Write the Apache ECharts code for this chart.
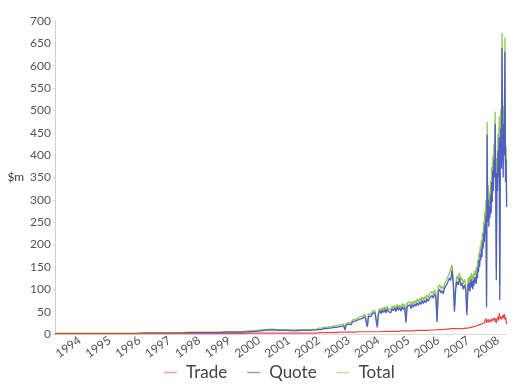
<!DOCTYPE html>
<html>
<head>
<meta charset="utf-8">
<script src="https://cdn.jsdelivr.net/npm/echarts@6/dist/echarts.min.js"></script>
<style>
  html, body { margin: 0; padding: 0; background: #fff; }
  #chart { width: 518px; height: 385px; }
</style>
</head>
<body>
<div id="chart"></div>
<script>
// Daily value traded on the exchange, $m — Trade, Quote and Total.
// Sampling: quarterly 1993–2001, half-monthly 2002–2006, weekly 2007–2008.
const segments = [
  { start: 1993.17, step: 0.25, count: 36 },
  { start: 2002.0, step: 1 / 24, count: 120 },
  { start: 2007.0, step: 1 / 52, count: 68 }
];

const yearTicks = [1994, 1995, 1996, 1997, 1998, 1999, 2000, 2001, 2002, 2003, 2004, 2005, 2006, 2007, 2008];

// 1993–2001 (quarterly)
const tradeEarly = [1,1,1,1,1,1,1,1,1,1,1,1, 1,1,1,1,1,1,1,1, 1,1,1,1,1,1,2,2, 2,2,2,2,2,2,2,2];
const quoteEarly = [1,1,1,1,1,1,1,1,1,1,1,1, 2,2,2,2,2,2,3,3, 3,3,3,4,4,4,5,6, 8,9,8,8,7,8,8,9];
const totalEarly = [2,2,2,2,2,2,2,2,2,2,2,2, 3,3,3,3,3,3,4,4, 4,4,4,5,5,5,7,8, 10,11,10,10,9,10,10,11];

// 2002–2006 (half-monthly)
const tradeMid = [
  3,3,3,3,3,3,3,3,3,3,3,3,3,3,3,3,4,4,4,4,4,4,4,4,
  4,4,4,4,4,4,4,4,5,5,5,5,5,5,5,5,5,5,5,5,5,5,5,5,
  5,5,5,6,6,6,6,6,6,6,6,6,6,6,6,6,6,6,7,7,7,7,7,7,
  7,7,7,7,7,7,8,8,8,8,8,8,8,8,8,8,8,9,9,9,9,9,9,9,
  10,10,10,10,10,10,11,11,11,11,12,12,12,12,12,12,12,12,12,12,12,12,13,13
];
const quoteMid = [
  10,11,10,11,12,11,12,12,13,14,13,14,15,16,15,17,16,18,17,19,18,9,20,21,
  22,26,21,27,25,29,26,31,28,33,30,35,33,39,35,16,40,44,39,46,42,48,44,15,
  47,52,45,53,48,55,47,56,50,54,48,57,52,58,50,60,53,59,51,61,55,60,25,62,
  58,65,57,66,60,68,62,70,64,72,66,75,68,76,70,79,73,80,76,86,80,90,84,27,
  95,100,92,97,90,102,98,112,108,125,120,143,112,50,100,118,110,125,108,114,100,110,98,42
];
const totalMid = [
  13,14,13,14,15,14,15,15,16,17,16,17,18,19,18,20,20,22,21,23,22,13,24,25,
  26,30,25,31,29,33,30,35,33,38,35,40,38,44,40,21,45,49,44,51,47,53,49,20,
  52,57,50,59,54,61,53,62,56,60,54,63,58,64,56,66,59,65,58,68,62,67,32,69,
  65,72,64,73,67,75,70,78,72,80,74,83,76,84,78,87,81,89,85,95,89,99,93,36,
  105,110,102,107,100,112,109,123,119,136,132,155,124,62,112,130,122,137,120,126,112,122,111,55
];

// 2007–2008 (weekly)
const tradeLate = [
  13,12,14,13,15,14,15,13,16,15,16,15,17,
  16,18,16,19,17,19,18,21,19,22,20,23,22,
  24,26,25,29,27,35,25,29,28,33,26,30,28,
  32,27,34,29,33,30,36,32,27,35,24,33,30,
  38,30,47,35,40,44,32,33,42,35,40,45,32,38,30,22
];
const quoteLate = [
  112,98,114,95,110,122,104,118,100,120,108,126,115,
  128,112,135,125,150,138,165,150,178,165,190,172,205,
  190,225,205,245,225,265,60,445,250,300,240,285,260,
  310,270,340,295,365,320,390,350,470,330,120,360,320,
  410,350,440,76,390,460,370,640,430,350,470,400,631,340,390,284
];
const totalLate = [
  125,110,128,108,125,136,119,131,116,135,124,141,132,
  144,130,151,144,167,157,183,171,197,187,210,195,227,
  214,251,230,274,252,300,85,474,278,333,266,315,288,
  342,297,374,324,398,350,426,382,497,365,144,393,350,
  448,380,487,111,430,504,402,673,472,385,510,445,663,378,420,306
];

// Pair each value with its date (decimal year) along the sampling segments.
function pairs(parts) {
  const out = [];
  parts.forEach((vals, s) => {
    const seg = segments[s];
    vals.forEach((v, i) => out.push([seg.start + seg.step * i, v]));
  });
  return out;
}

const trade = pairs([tradeEarly, tradeMid, tradeLate]);
const quote = pairs([quoteEarly, quoteMid, quoteLate]);
const total = pairs([totalEarly, totalMid, totalLate]);

const FONT = 'Lato, "Open Sans", sans-serif';
const chart = echarts.init(document.getElementById('chart'), null, { renderer: 'canvas' });

chart.setOption({
  backgroundColor: '#ffffff',
  animation: false,
  grid: { left: 55, right: 11, top: 21, bottom: 51, containLabel: false },
  legend: {
    top: 364,
    left: 164,
    padding: 0,
    icon: 'rect',
    itemWidth: 13,
    itemHeight: 1.5,
    itemGap: 20,
    textStyle: { fontFamily: FONT, fontSize: 17, color: '#444', padding: [0, 0, 0, 4] },
    data: [
      { name: 'Trade', itemStyle: { color: '#eda3aa' } },
      { name: 'Quote', itemStyle: { color: '#9aa0b4' } },
      { name: 'Total', itemStyle: { color: '#cfdcaa' } }
    ]
  },
  xAxis: {
    type: 'value',
    min: 1993.17,
    max: 2008.3,
    axisLine: { show: true, lineStyle: { color: '#e2d8d8', width: 1 } },
    axisTick: { show: false },
    splitLine: { show: false },
    axisLabel: {
      customValues: yearTicks,
      rotate: 35,
      margin: 5,
      color: '#555',
      fontFamily: FONT,
      fontSize: 12,
      formatter: v => String(Math.round(v))
    }
  },
  yAxis: {
    type: 'value',
    min: 0,
    max: 700,
    interval: 50,
    name: '$m',
    nameLocation: 'middle',
    nameRotate: 0,
    nameGap: 27,
    nameTextStyle: { fontFamily: FONT, fontSize: 12, color: '#444' },
    axisLine: { show: true, lineStyle: { color: '#cfcfcf', width: 1 } },
    axisTick: { show: true, length: 2, lineStyle: { color: '#d8d8d8' } },
    splitLine: { show: false },
    axisLabel: { color: '#555', fontFamily: FONT, fontSize: 12, margin: 4 }
  },
  series: [
    {
      name: 'Total', type: 'line', data: total, showSymbol: false, z: 2,
      lineStyle: { color: '#8fc553', width: 1.3 }, itemStyle: { color: '#8fc553' }
    },
    {
      name: 'Quote', type: 'line', data: quote, showSymbol: false, z: 3,
      lineStyle: { color: '#4f5fc4', width: 1.3 }, itemStyle: { color: '#4f5fc4' }
    },
    {
      name: 'Trade', type: 'line', data: trade, showSymbol: false, z: 4,
      lineStyle: { color: '#e8484a', width: 1.2 }, itemStyle: { color: '#e8484a' }
    }
  ]
});
</script>
</body>
</html>
